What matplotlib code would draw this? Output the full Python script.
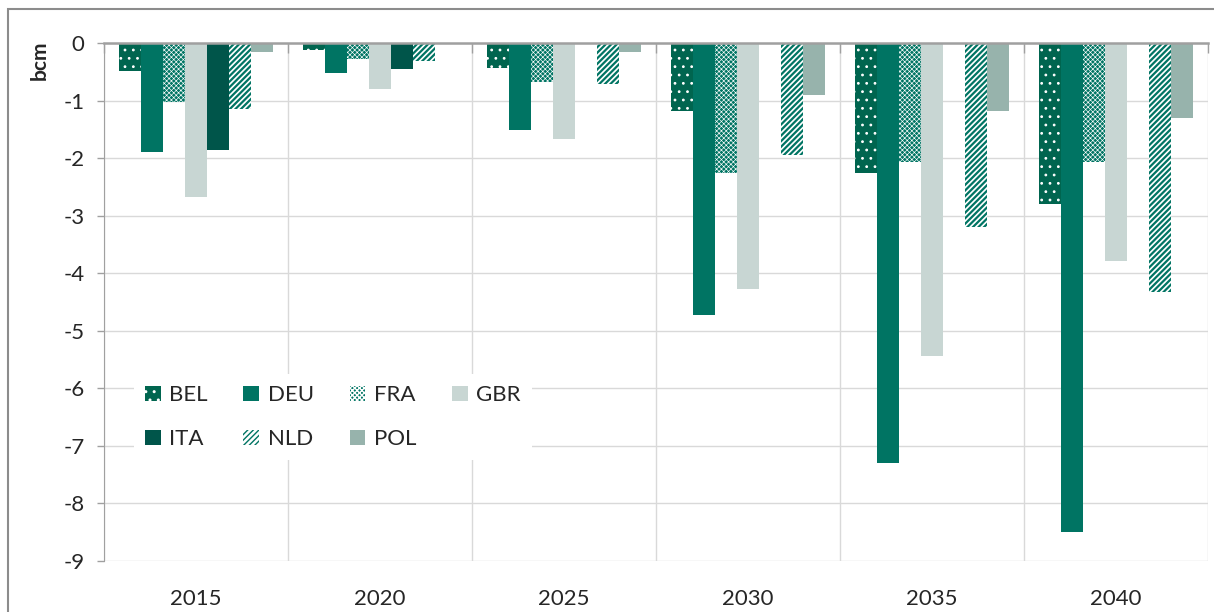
import matplotlib
matplotlib.use("Agg")
import matplotlib.pyplot as plt
import numpy as np
from matplotlib.patches import Rectangle

years = ["2015", "2020", "2025", "2030", "2035", "2040"]
countries = ["BEL", "DEU", "FRA", "GBR", "ITA", "NLD", "POL"]

BEL = [-0.49, -0.12, -0.43, -1.18, -2.25, -2.80]
DEU = [-1.90, -0.52, -1.52, -4.72, -7.30, -8.50]
FRA = [-1.03, -0.27, -0.68, -2.25, -2.07, -2.07]
GBR = [-2.68, -0.80, -1.67, -4.27, -5.43, -3.78]
ITA = [-1.86, -0.45, 0.0, 0.0, 0.0, 0.0]
NLD = [-1.15, -0.31, -0.72, -1.95, -3.19, -4.33]
POL = [-0.16, 0.0, -0.16, -0.90, -1.18, -1.30]
series = [BEL, DEU, FRA, GBR, ITA, NLD, POL]

teal = "#007463"
styles = {
    "BEL": dict(facecolor="#00654F", edgecolor="white", hatch="..", hlw=0.8),
    "DEU": dict(facecolor=teal, edgecolor=teal, hatch=None, hlw=1.0),
    "FRA": dict(facecolor=teal, edgecolor="white", hatch="xxxxxxx", hlw=0.45),
    "GBR": dict(facecolor="#C8D6D3", edgecolor="#C8D6D3", hatch=None, hlw=1.0),
    "ITA": dict(facecolor="#00554A", edgecolor="#00554A", hatch=None, hlw=1.0),
    "NLD": dict(facecolor="white", edgecolor=teal, hatch="//////", hlw=1.6),
    "POL": dict(facecolor="#97B3AC", edgecolor="#97B3AC", hatch=None, hlw=1.0),
}

plt.rcParams["font.family"] = ["Lato", "DejaVu Sans"]

fig = plt.figure(figsize=(12.14, 6.12), dpi=100)
W, H = 1214, 612
ax = fig.add_axes([104 / W, 1 - 561 / H, (1208 - 104) / W, (561 - 43) / H])

x = np.arange(len(years))
bw = 0.12
handles = {}
for i, (name, vals) in enumerate(zip(countries, series)):
    st = styles[name]
    with plt.rc_context({"hatch.linewidth": st["hlw"]}):
        bars = ax.bar(x + (i - 3) * bw, vals, width=bw, facecolor=st["facecolor"],
                      edgecolor=st["edgecolor"], hatch=st["hatch"], linewidth=0,
                      label=name, zorder=3)
    handles[name] = bars

ax.set_xlim(-0.5, len(years) - 0.5)
ax.set_ylim(-9, 0)
ax.set_yticks(np.arange(-9, 1, 1))
ax.set_yticklabels([str(v) for v in range(-9, 1)])

ax.set_xticks(x)
ax.set_xticklabels(years)
ax.set_xticks(np.arange(-0.5, len(years), 1), minor=True)
ax.tick_params(axis="x", which="major", length=0, pad=20, labelsize=16, labelcolor="#262626")
ax.tick_params(axis="x", which="minor", bottom=False, top=True, direction="in",
               length=7, color="#A0A0A0", width=1)
ax.tick_params(axis="y", which="major", length=5, color="#A0A0A0", width=1,
               labelsize=16, labelcolor="#262626", pad=9)

ax.grid(axis="y", which="major", color="#D9D9D9", linewidth=1, zorder=0)
ax.grid(axis="x", which="minor", color="#D9D9D9", linewidth=1, zorder=0)
ax.grid(axis="x", which="major", visible=False)
ax.set_axisbelow(True)

for s in ["right", "bottom"]:
    ax.spines[s].set_visible(False)
ax.spines["left"].set_color("#A0A0A0")
ax.spines["top"].set_color("#A0A0A0")
ax.spines["top"].set_linewidth(1.8)
ax.spines["top"].set_zorder(4)

fig.text(40 / W, 1 - 60 / H, "bcm", rotation=90, fontsize=15, fontweight="bold",
         ha="center", va="center", color="#262626")

order = ["BEL", "ITA", "DEU", "NLD", "FRA", "POL", "GBR"]
leg = ax.legend([handles[n] for n in order], order, ncol=4, loc="upper left",
                bbox_to_anchor=(0.017, 0.382),
                frameon=True, fontsize=16, handlelength=0.7, handleheight=0.7,
                handletextpad=0.4, columnspacing=1.6, labelspacing=1.07,
                borderpad=0.5)
leg.get_frame().set_edgecolor("none")
leg.get_frame().set_facecolor("white")
leg.get_frame().set_alpha(1)
for t in leg.get_texts():
    t.set_color("#262626")

fig.patches.append(Rectangle((8 / W, -0.1), 1.2, 1.1 - 9 / H, transform=fig.transFigure,
                             fill=False, edgecolor="#8C8C8C", linewidth=1.5))

fig.savefig("out.png", dpi=100)
